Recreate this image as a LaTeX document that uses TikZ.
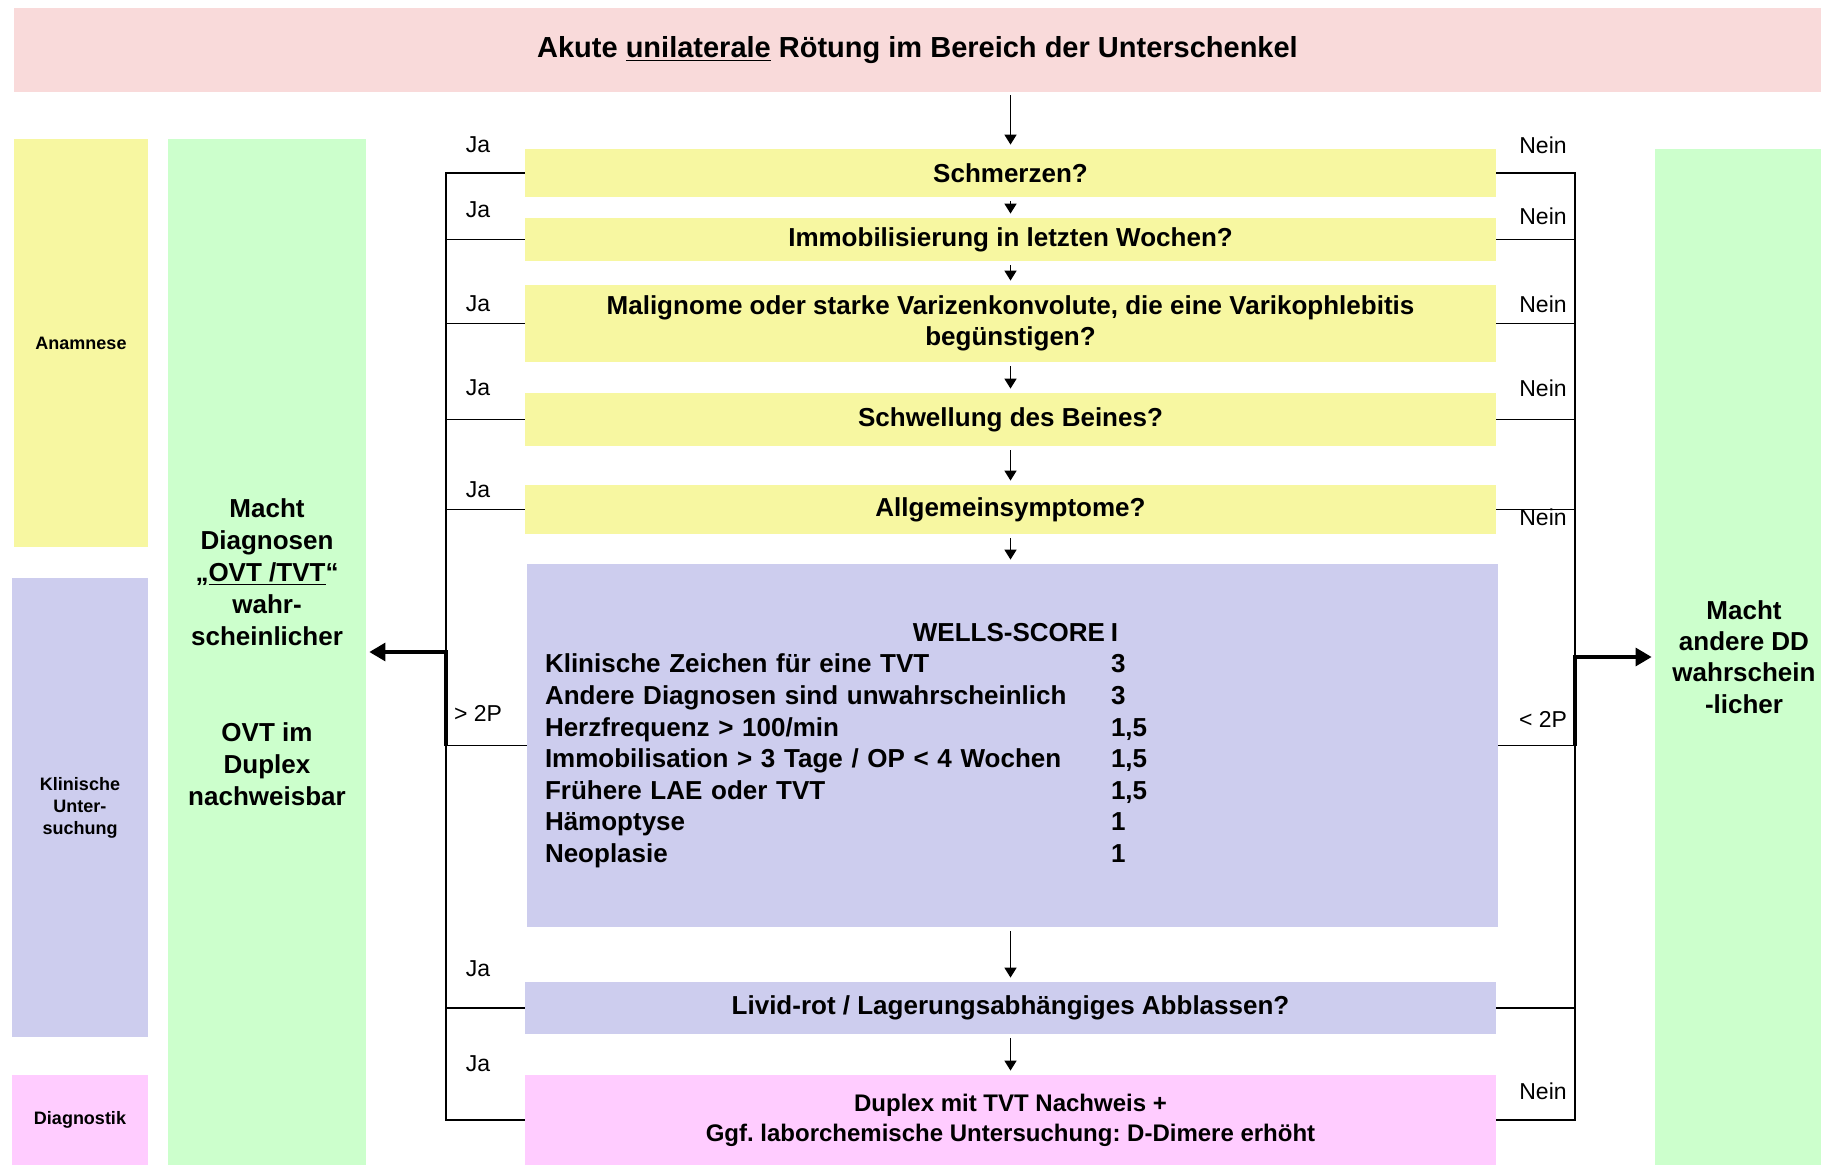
\documentclass[tikz,border=0pt]{standalone}
\usepackage{fontspec}
\setmainfont{Liberation Sans}
\usetikzlibrary{arrows.meta}
\frenchspacing
\definecolor{rosa}{HTML}{F9DADA}
\definecolor{gelb}{HTML}{F7F7A1}
\definecolor{gruen}{HTML}{CCFFCC}
\definecolor{lila}{HTML}{CDCDEE}
\definecolor{pink}{HTML}{FFCCFF}
\newcommand{\fs}[2]{\fontsize{#1}{#2}\selectfont}

\begin{document}
\begin{tikzpicture}[x=0.5pt,y=-0.5pt,>={Triangle[width=6pt,length=5pt]},
  box/.style={fill=#1,inner sep=0pt,align=center,font=\bfseries\fs{13}{15.5}},
  side/.style={fill=#1,inner sep=0pt,align=center,font=\bfseries\fs{9}{11}},
  lbl/.style={inner sep=0pt,font=\fs{11.5}{13}},
  ast/.style={line width=0.8pt},
  fluss/.style={->,line width=0.8pt,shorten <=2pt,shorten >=2pt},
  pfeil/.style={->,line width=1.6pt,>={Triangle[width=9pt,length=8pt]},shorten >=1.5pt}]
  \useasboundingbox (0,0) rectangle (1821,1165);
  % Kopfzeile
  \node[box=rosa,minimum width=903.5pt,minimum height=42pt,font=\bfseries\fs{14.5}{17}] (top) at (917.5,50)
    {Akute \underline{unilaterale} Rötung im Bereich der Unterschenkel};
  % Spalte links
  \node[side=gelb,minimum width=67pt,minimum height=204pt] (anam) at (81,343) {Anamnese};
  \node[side=lila,minimum width=68pt,minimum height=229.5pt] (klin) at (80,807.5) {Klinische\\Unter-\\suchung};
  \node[side=pink,minimum width=68pt,minimum height=45pt] (diag) at (80,1120) {Diagnostik};
  % Ergebnisse
  \node[box=gruen,minimum width=99pt,minimum height=513pt,font=\bfseries\fs{13}{16}] (ovt) at (267,652)
    {Macht\\Diagnosen\\„\underline{OVT /TVT}“\\wahr-\\scheinlicher\\[32pt]OVT im\\Duplex\\nachweisbar};
  \node[box=gruen,minimum width=89pt,minimum height=508pt,font=\bfseries\fs{13}{15.7}] (dd) at (1744,657)
    {Macht\\andere DD\\wahrschein\\-licher};
  % Fragen
  \node[box=gelb,minimum width=485.5pt,minimum height=24pt] (q1) at (1010.5,173) {Schmerzen?};
  \node[box=gelb,minimum width=485.5pt,minimum height=21.5pt] (q2) at (1010.5,239.5) {Immobilisierung in letzten Wochen?};
  \node[box=gelb,minimum width=485.5pt,minimum height=38.5pt] (q3) at (1010.5,323.5)
    {Malignome oder starke Varizenkonvolute, die eine Varikophlebitis\\begünstigen?};
  \node[box=gelb,minimum width=485.5pt,minimum height=26.5pt] (q4) at (1010.5,419.5) {Schwellung des Beines?};
  \node[box=gelb,minimum width=485.5pt,minimum height=24.5pt] (q5) at (1010.5,509.5) {Allgemeinsymptome?};
  \node[box=lila,minimum height=181.5pt,text width=467.5pt,inner xsep=9pt,align=left,font=\bfseries\fs{13}{15.8}] (wells) at (1012.5,745.5)
    {\begin{tabular}{@{}p{283pt}@{}l@{}}
      \hfill WELLS-SCORE\hspace*{3pt} & I\\
      Klinische Zeichen für eine TVT & 3\\
      Andere Diagnosen sind unwahrscheinlich & 3\\
      Herzfrequenz > 100/min & 1,5\\
      Immobilisation > 3 Tage / OP < 4 Wochen & 1,5\\
      Frühere LAE oder TVT & 1,5\\
      Hämoptyse & 1\\
      Neoplasie & 1
    \end{tabular}};
  \node[box=lila,minimum width=485.5pt,minimum height=26pt] (q6) at (1010.5,1008) {Livid-rot / Lagerungsabhängiges Abblassen?};
  \node[box=pink,minimum width=485.5pt,minimum height=45pt,font=\bfseries\fs{12}{15}] (q7) at (1010.5,1120)
    {Duplex mit TVT Nachweis +\\Ggf. laborchemische Untersuchung: D-Dimere erhöht};
  % Pfeile nach unten
  \draw[fluss,shorten <=1.5pt] (top.south -| q1.north) -- (q1.north);
  \draw[fluss] (q1) -- (q2);
  \draw[fluss] (q2) -- (q3);
  \draw[fluss] (q3) -- (q4);
  \draw[fluss] (q4) -- (q5);
  \draw[fluss] (q5.south) -- (q5.south |- wells.north);
  \draw[fluss] (wells.south -| q6.north) -- (q6.north);
  \draw[fluss] (q6) -- (q7);
  % Verzweigungen
  \coordinate (la) at (446,0);
  \coordinate (ra) at (1575,0);
  \draw[ast] (q1.west) -- (q1.west -| la) -- (q7.west -| la) -- (q7.west);
  \draw[ast] (q1.east) -- (q1.east -| ra) -- (q7.east -| ra) -- (q7.east);
  \foreach \n in {q2,q3,q4,q5,wells,q6} {
    \draw[ast] (\n.west) -- (\n.west -| la);
    \draw[ast] (\n.east) -- (\n.east -| ra);
  }
  \draw[pfeil] (wells.west -| la) |- (ovt.east);
  \draw[pfeil] (wells.east -| ra) |- (dd.west);
  % Beschriftungen
  \foreach \y/\t [count=\i] in {145/Ja,210/Ja,304/Ja,388/Ja,490/Ja,713/{> 2P},969/Ja,1064/Ja}
    \node[lbl] (ja\i) at (478,\y) {\t};
  \foreach \y/\t [count=\i] in {145/Nein,216/Nein,304/Nein,388/Nein,517/Nein,719/{< 2P},1091/Nein}
    \node[lbl] (nein\i) at (1543,\y) {\t};
\end{tikzpicture}
\end{document}
